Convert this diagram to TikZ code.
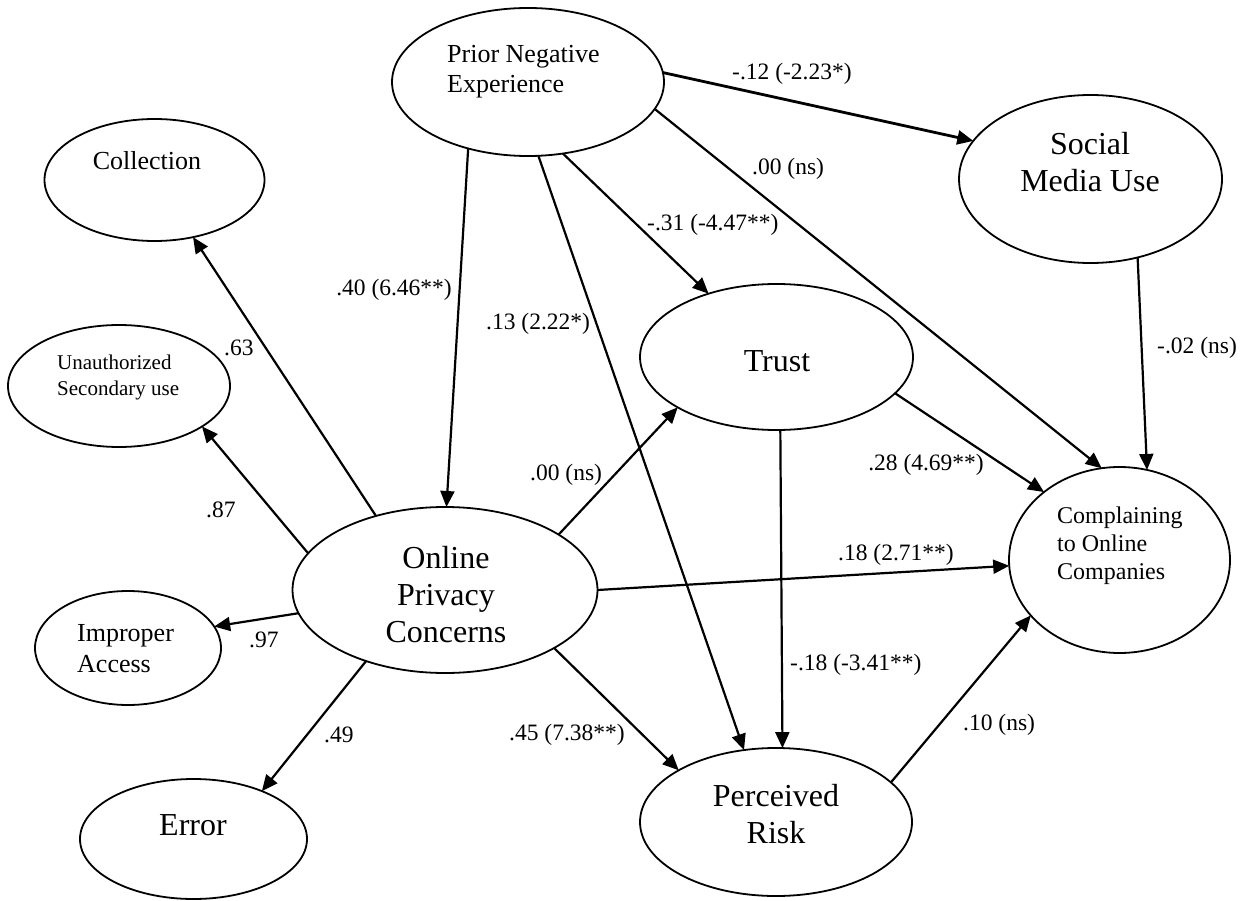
\documentclass[tikz,border=0pt]{standalone}
\usepackage{fontspec}
\setmainfont{Liberation Serif}
\usetikzlibrary{shapes.geometric,arrows.meta}

\begin{document}
\begin{tikzpicture}[x=1pt,y=-1pt,
  lat/.style={draw, ellipse, line width=1.8pt, inner sep=0pt, outer sep=0pt},
  link/.style={line width=2.2pt, -{Triangle[length=16pt,width=14pt]}},
  coef/.style={font=\fontsize{23.5}{28}\selectfont, inner sep=0pt},
  big/.style={font=\fontsize{32}{37}\selectfont, inner sep=0pt},
  mid/.style={font=\fontsize{26}{30.5}\selectfont, inner sep=0pt},
  small/.style={font=\fontsize{21}{26}\selectfont, inner sep=0pt},
  cmpfont/.style={font=\fontsize{24}{28}\selectfont, inner sep=0pt},
]
\useasboundingbox (0,0) rectangle (1244,901);

% latent constructs
\node[lat, minimum width=272pt, minimum height=148pt] (pne) at (528,82) {};
\node[lat, minimum width=220pt, minimum height=122pt] (col) at (154.5,180) {};
\node[lat, minimum width=222pt, minimum height=122pt] (una) at (119,386) {};
\node[lat, minimum width=186pt, minimum height=114pt] (imp) at (128,648) {};
\node[lat, minimum width=227pt, minimum height=120pt] (err) at (193.5,839) {};
\node[lat, minimum width=305pt, minimum height=166pt] (opc) at (445,590) {};
\node[lat, minimum width=273pt, minimum height=146pt] (tru) at (776.5,357) {};
\node[lat, minimum width=272pt, minimum height=148pt] (pr) at (776,822) {};
\node[lat, minimum width=263pt, minimum height=168pt] (smu) at (1090.5,179) {};
\node[lat, minimum width=221pt, minimum height=186pt] (cmp) at (1119.5,560) {};

% construct names (multi-line nodes are anchored at their last baseline)
\node[mid, align=left, anchor=base west] (pnet) at (447,93) {Prior Negative\\Experience};
\node[mid, anchor=base] (colt) at (147,170) {Collection};
\node[small, align=left, anchor=base west] (unat) at (57,395) {Unauthorized\\Secondary use};
\node[mid, align=left, anchor=base west] (impt) at (77,672) {Improper\\Access};
\node[big, anchor=base] (errt) at (193,835) {Error};
\node[big, align=center, anchor=base] (opct) at (446,642) {Online\\Privacy\\Concerns};
\node[big, anchor=base] (trut) at (777,371) {Trust};
\node[big, align=center, anchor=base] (prt) at (776,843) {Perceived\\Risk};
\node[big, align=center, anchor=base] (smut) at (1090,192) {Social\\Media Use};
\node[cmpfont, align=left, anchor=base west] (cmpt) at (1057,579) {Complaining\\to Online\\Companies};

% structural paths
\draw[link] (pne.-132) -- (opc.89);
\draw[link] (pne.-82) -- (pr.114);
\draw[link] (pne.-64) -- (tru.137);
\draw[link] (pne.-12) -- (cmp.101);
\draw[link, line width=2.8pt] (pne.4) -- (smu.162);
\draw[link] (smu.-59) -- (cmp.73);
\draw[link] (tru.-17) -- (cmp.138);
\draw[link] (tru.-87) -- (pr.85);
\draw[link] (opc.26) -- (tru.207);
\draw[link] (opc.0) -- (cmp.183);
\draw[link] (opc.-28) -- (pr.152);
\draw[link] (pr.19) -- (cmp.212);

% measurement paths
\draw[link] (opc.133) -- (col.-56);
\draw[link] (opc.165) -- (una.-26);
\draw[link] (opc.189) -- (imp.14);
\draw[link] (opc.-138) -- (err.35);

% path coefficients
\node[coef, anchor=base east] (l1) at (452,295) {.40 (6.46**)};
\node[coef, anchor=base west] (l2) at (486,329) {.13 (2.22*)};
\node[coef, anchor=base west] (l3) at (647,231) {-.31 (-4.47**)};
\node[coef, anchor=base west] (l4) at (752,175) {.00 (ns)};
\node[coef, anchor=base west] (l5) at (732,80) {-.12 (-2.23*)};
\node[coef, anchor=base west] (l6) at (1157,353) {-.02 (ns)};
\node[coef, anchor=base east] (l7) at (984,470) {.28 (4.69**)};
\node[coef, anchor=base west] (l8) at (790,670) {-.18 (-3.41**)};
\node[coef, anchor=base west] (l9) at (530,480) {.00 (ns)};
\node[coef, anchor=base west] (l10) at (838,560) {.18 (2.71**)};
\node[coef, anchor=base west] (l11) at (509,740) {.45 (7.38**)};
\node[coef, anchor=base west] (l12) at (963,730) {.10 (ns)};
\node[coef, anchor=base west] (l13) at (224,355) {.63};
\node[coef, anchor=base west] (l14) at (206,517) {.87};
\node[coef, anchor=base west] (l15) at (249,647) {.97};
\node[coef, anchor=base west] (l16) at (324,742) {.49};
\end{tikzpicture}
\end{document}
